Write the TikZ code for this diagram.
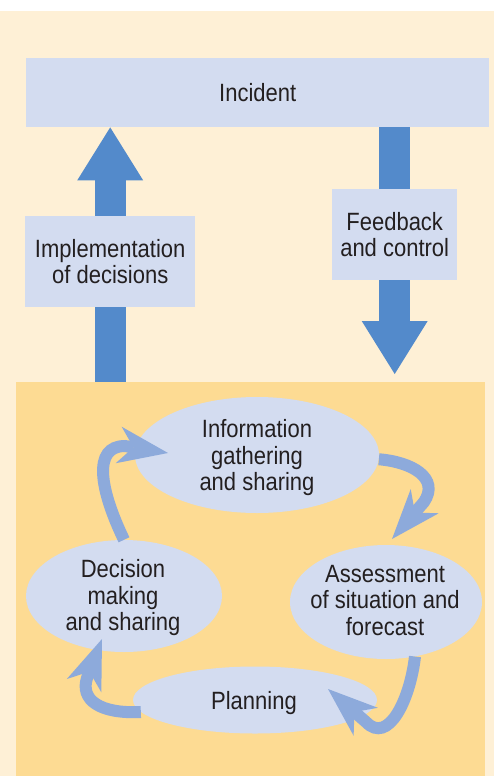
\documentclass[tikz,border=0pt]{standalone}
\usepackage{fontspec}
\setmainfont{Liberation Sans}[FakeStretch=0.88]
\usetikzlibrary{shapes.geometric,arrows.meta,calc}
\definecolor{creambg}{HTML}{FEF0D6}
\definecolor{orangebox}{HTML}{FDDB93}
\definecolor{paleblue}{HTML}{D3DCF0}
\definecolor{darkarrow}{HTML}{538ACB}
\definecolor{lightarrow}{HTML}{8DAADB}
\definecolor{txt}{HTML}{231F20}
\pgfdeclarelayer{bglayer}
\pgfdeclarelayer{arrowlayer}
\pgfsetlayers{bglayer,arrowlayer,main}
\begin{document}
\begin{tikzpicture}[x=1pt,y=-1pt,
  lbl/.style={font=\fontsize{25}{26.5}\selectfont, text=txt, align=center, inner sep=0pt},
  rectbox/.style={fill=paleblue, inner sep=0pt, anchor=north west},
  ellbox/.style={ellipse, fill=paleblue, inner sep=0pt},
  bigarrow/.style={draw=darkarrow, fill=darkarrow, line width=31pt,
    -{Triangle[length=53pt,width=66pt,line width=0pt]}},
  cyc/.style={draw=lightarrow, fill=none, line width=12pt,
    -{Stealth[length=50pt,width=37pt,inset=15pt,line width=0pt,fill=lightarrow]}}
]
\path[use as bounding box] (0,0) rectangle (494,776);
\begin{pgfonlayer}{bglayer}
  \fill[creambg] (0,11) rectangle (494,776);
\end{pgfonlayer}
\node[fill=orangebox, minimum width=469pt, minimum height=394pt, inner sep=0pt, anchor=north west] (cycle) at (16,382) {};
\node[rectbox, minimum width=463pt, minimum height=69pt] (incident) at (26,58) {};
\node[lbl] (incidenttext) at (incident.center) {Incident};

\node[rectbox, minimum width=170pt, minimum height=91pt] (impl) at (25,216) {};
\node[lbl] (impltext) at (impl.center) {Implementation\\of decisions};
\node[rectbox, minimum width=125pt, minimum height=91pt] (feed) at (332,189) {};
\node[lbl] (feedtext) at (feed.center) {Feedback\\and control};

\begin{pgfonlayer}{arrowlayer}
  \draw[bigarrow] (impl.center |- cycle.north) -- (impl.center |- incident.south);
  \draw[bigarrow, shorten >=8pt] (feed.center |- incident.south) -- (feed.center |- cycle.north);
\end{pgfonlayer}

% cycle ellipses
\node[ellbox, minimum width=244pt, minimum height=116pt] (info) at (257,455) {};
\node[ellbox, minimum width=196pt, minimum height=112pt] (dec) at (124,596) {};
\node[ellbox, minimum width=192pt, minimum height=114pt] (assess) at (386,602) {};
\node[ellbox, minimum width=244pt, minimum height=67pt] (plan) at (255,700) {};

\node[lbl] (infotext) at ($(info.center)+(0,3)$) {Information\\gathering\\and sharing};
\node[lbl] (dectext) at ($(dec.center)+(-1,2)$) {Decision\\making\\and sharing};
\node[lbl] (assesstext) at ($(assess.center)+(-1,-1.5)$) {Assessment\\of situation and\\forecast};
\node[lbl] (plantext) at ($(plan.center)+(-1,2.6)$) {Planning};

\coordinate (t1) at (168,453);
\coordinate (t2) at (392,539);
\coordinate (t3) at (328,689);
\coordinate (t4) at (102,639);

\draw[cyc] (dec.north) .. controls (100,490) and (92,446) .. (125,446) -- (t1);
\draw[cyc] (info.-2) .. controls (412,462) and (440,478) .. (424,502) -- (t2);
\draw[cyc] (assess.-62) .. controls (410,700) and (388,745) .. (366,722) -- (t3);
\draw[cyc] (plan.186) .. controls (100,714) and (80,700) .. (87,678) -- (t4);
\end{tikzpicture}
\end{document}
